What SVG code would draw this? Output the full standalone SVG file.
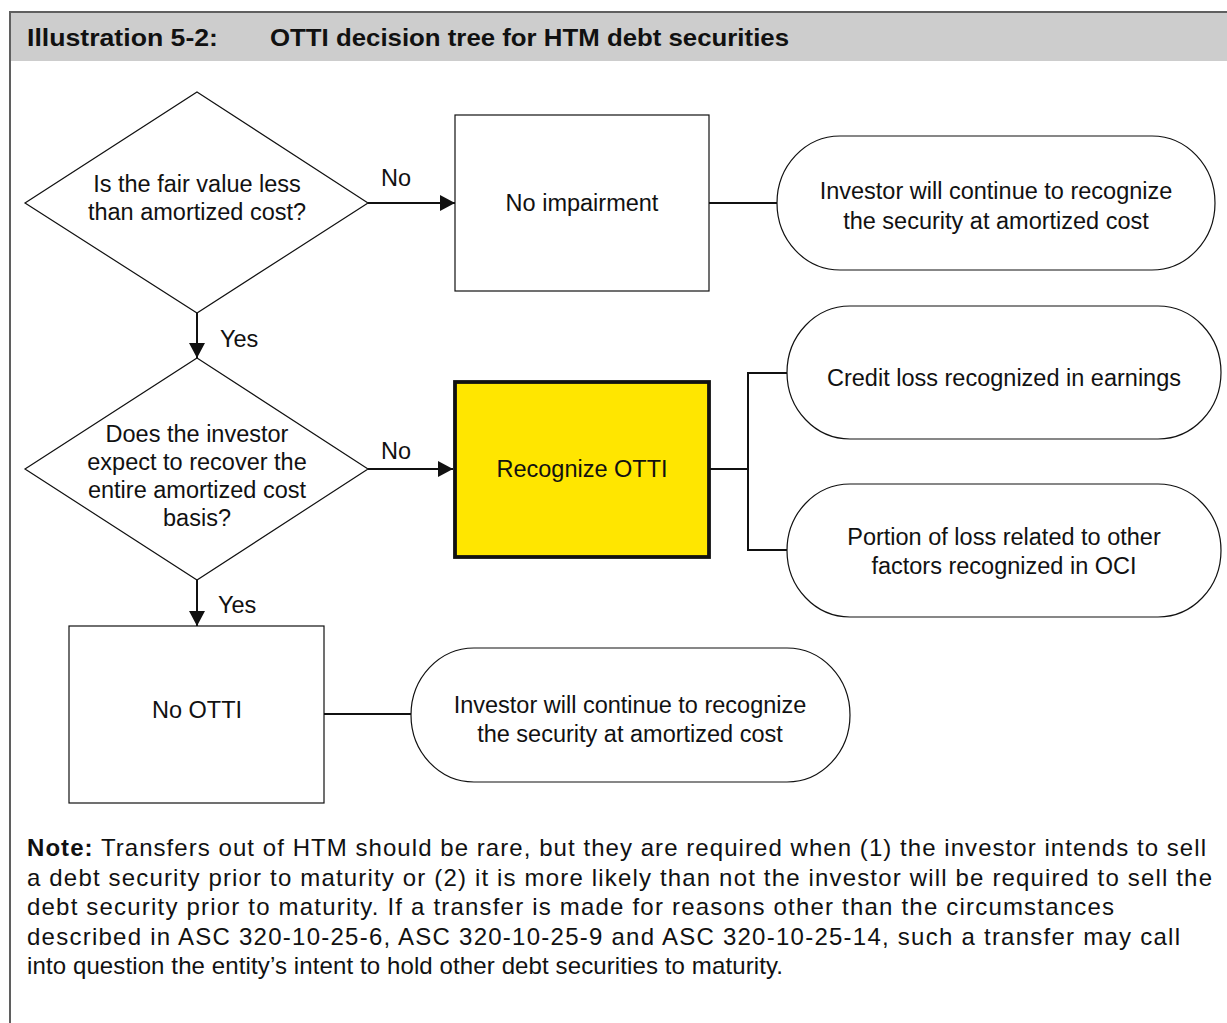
<svg xmlns="http://www.w3.org/2000/svg" width="1227" height="1023" viewBox="0 0 1227 1023">
<style>
text{font-family:"Liberation Sans",Arial,sans-serif;fill:#111;}
.t{font-size:23.5px;text-anchor:middle;}
.lbl{font-size:23.5px;}
.note{font-size:24px;}
.title{font-size:24.5px;font-weight:bold;}
.shape{fill:#fff;stroke:#111;stroke-width:1.2;}
.conn{fill:none;stroke:#111;stroke-width:2;}
</style>
<defs>
<marker id="arr" markerUnits="userSpaceOnUse" markerWidth="16" markerHeight="16" refX="15" refY="8" orient="auto">
<path d="M0,0 L15,8 L0,16 Z" fill="#111"/>
</marker>
</defs>
<rect x="0" y="0" width="1227" height="1023" fill="#fff"/>
<g id="frame">
<rect x="11" y="13" width="1216" height="48" fill="#cdcdcd"/>
<line x1="9" y1="12" x2="1227" y2="12" stroke="#5f5f5f" stroke-width="2"/>
<line x1="10" y1="11" x2="10" y2="1023" stroke="#5f5f5f" stroke-width="2"/>
<text class="title" x="27" y="46" textLength="191" lengthAdjust="spacingAndGlyphs">Illustration 5-2:</text>
<text class="title" x="270" y="46" textLength="519" lengthAdjust="spacingAndGlyphs">OTTI decision tree for HTM debt securities</text>
</g>
<g id="connectors">
<line class="conn" x1="368" y1="203" x2="455" y2="203" marker-end="url(#arr)"/>
<line class="conn" x1="709" y1="203" x2="777" y2="203"/>
<line class="conn" x1="197" y1="313" x2="197" y2="358" marker-end="url(#arr)"/>
<line class="conn" x1="368" y1="469" x2="453" y2="469" marker-end="url(#arr)"/>
<polyline class="conn" points="710,469 748,469"/>
<polyline class="conn" points="787,373 748,373 748,550 787,550"/>
<line class="conn" x1="197" y1="580" x2="197" y2="626" marker-end="url(#arr)"/>
<line class="conn" x1="324" y1="714" x2="411" y2="714"/>
<text class="lbl" x="381" y="186">No</text>
<text class="lbl" x="220" y="347">Yes</text>
<text class="lbl" x="381" y="459">No</text>
<text class="lbl" x="218" y="613">Yes</text>
</g>
<g id="q1">
<polygon class="shape" points="197,92 368,203 197,313 25,203"/>
<text class="t" x="197" y="192">Is the fair value less</text>
<text class="t" x="197" y="220">than amortized cost?</text>
</g>
<g id="no-impairment">
<rect class="shape" x="455" y="115" width="254" height="176"/>
<text class="t" x="582" y="211">No impairment</text>
</g>
<g id="result1">
<rect class="shape" x="777" y="136" width="438" height="134" rx="63" ry="67"/>
<text class="t" x="996" y="199">Investor will continue to recognize</text>
<text class="t" x="996" y="229">the security at amortized cost</text>
</g>
<g id="q2">
<polygon class="shape" points="197,358 368,469 197,580 25,469"/>
<text class="t" x="197" y="442">Does the investor</text>
<text class="t" x="197" y="470">expect to recover the</text>
<text class="t" x="197" y="498">entire amortized cost</text>
<text class="t" x="197" y="526">basis?</text>
</g>
<g id="recognize-otti">
<rect x="455" y="382" width="254" height="175" fill="#ffe600" stroke="#111" stroke-width="3.8"/>
<text class="t" x="582" y="477">Recognize OTTI</text>
</g>
<g id="credit-loss">
<rect class="shape" x="787" y="306" width="434" height="133" rx="63" ry="66.5"/>
<text class="t" x="1004" y="386">Credit loss recognized in earnings</text>
</g>
<g id="oci-loss">
<rect class="shape" x="787" y="484" width="434" height="133" rx="63" ry="66.5"/>
<text class="t" x="1004" y="545">Portion of loss related to other</text>
<text class="t" x="1004" y="574">factors recognized in OCI</text>
</g>
<g id="no-otti">
<rect class="shape" x="69" y="626" width="255" height="177"/>
<text class="t" x="197" y="718">No OTTI</text>
</g>
<g id="result2">
<rect class="shape" x="411" y="648" width="439" height="134" rx="63" ry="67"/>
<text class="t" x="630" y="713">Investor will continue to recognize</text>
<text class="t" x="630" y="742">the security at amortized cost</text>
</g>
<g id="note">
<text class="note" x="27" y="856" textLength="1179" lengthAdjust="spacing"><tspan font-weight="bold">Note:</tspan> Transfers out of HTM should be rare, but they are required when (1) the investor intends to sell</text>
<text class="note" x="27" y="885.6" textLength="1185" lengthAdjust="spacing">a debt security prior to maturity or (2) it is more likely than not the investor will be required to sell the</text>
<text class="note" x="27" y="915.2" textLength="1087" lengthAdjust="spacing">debt security prior to maturity. If a transfer is made for reasons other than the circumstances</text>
<text class="note" x="27" y="944.8" textLength="1153" lengthAdjust="spacing">described in ASC 320-10-25-6, ASC 320-10-25-9 and ASC 320-10-25-14, such a transfer may call</text>
<text class="note" x="27" y="974.4" textLength="756" lengthAdjust="spacing">into question the entity’s intent to hold other debt securities to maturity.</text>
</g>
</svg>
